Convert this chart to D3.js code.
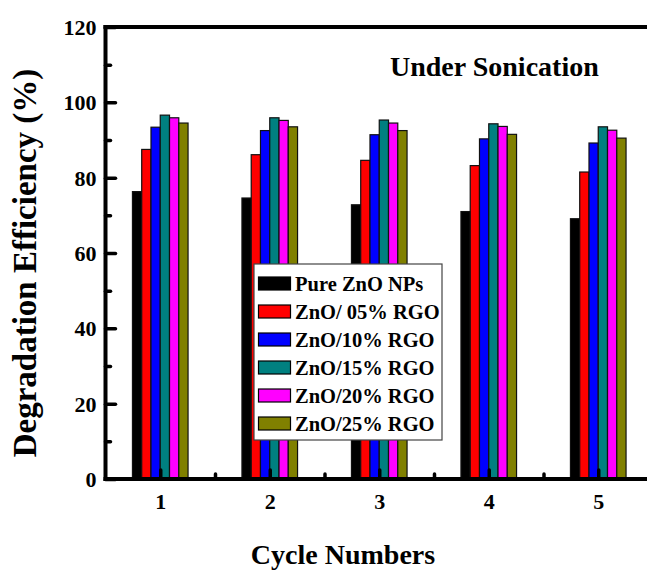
<!DOCTYPE html>
<html>
<head>
<meta charset="utf-8">
<script src="https://cdn.jsdelivr.net/npm/d3@7"></script>
<style>
  html, body { margin: 0; padding: 0; background: #fff; }
  svg { display: block; font-family: "Liberation Serif", "Times New Roman", serif; font-weight: bold; }
</style>
</head>
<body>
<svg id="chart" width="647" height="572"></svg>
<script>
// Photocatalytic degradation efficiency over repeated cycles
const cycles = [1, 2, 3, 4, 5];
const seriesNames = ["Pure ZnO NPs", "ZnO/ 05% RGO", "ZnO/10% RGO", "ZnO/15% RGO", "ZnO/20% RGO", "ZnO/25% RGO"];
const seriesColors = ["#000000", "#ff0000", "#0000ff", "#008080", "#ff00ff", "#808000"];
const pureZnO = [76.3, 74.6, 72.8, 71.0, 69.1];
const rgo05 = [87.5, 86.1, 84.6, 83.2, 81.5];
const rgo10 = [93.4, 92.5, 91.4, 90.3, 89.2];
const rgo15 = [96.6, 95.9, 95.3, 94.3, 93.5];
const rgo20 = [95.9, 95.2, 94.5, 93.6, 92.6];
const rgo25 = [94.5, 93.5, 92.5, 91.5, 90.5];
const yTickValues = [0, 20, 40, 60, 80, 100, 120];

const seriesValues = [pureZnO, rgo05, rgo10, rgo15, rgo20, rgo25];

const svg = d3.select("#chart");

const x = d3.scaleLinear().domain([0.5, 5.5]).range([105.5, 653]);
const y = d3.scaleLinear().domain([0, 120]).range([479, 27]);
const inner = d3.scaleBand().domain(seriesNames).range([-27.8, 27.8]).padding(0);

// Bars
const rows = [];
cycles.forEach((c, i) => {
  seriesNames.forEach((s, j) => {
    rows.push({ cycle: c, series: s, value: seriesValues[j][i], color: seriesColors[j] });
  });
});

svg.append("g").selectAll("rect")
  .data(rows)
  .join("rect")
  .attr("x", d => x(d.cycle) + inner(d.series))
  .attr("width", inner.bandwidth())
  .attr("y", d => y(d.value))
  .attr("height", d => y(0) - y(d.value))
  .attr("fill", d => d.color)
  .attr("stroke", "#111")
  .attr("stroke-width", 1.2);

// Frame lines (left, top, bottom)
const frame = svg.append("g").attr("stroke", "#000").attr("stroke-width", 4).attr("fill", "none");
frame.append("line").attr("x1", x(0.5)).attr("x2", x(0.5)).attr("y1", y(120) - 2).attr("y2", y(0) + 2);
frame.append("line").attr("x1", x(0.5) - 2).attr("x2", 647).attr("y1", y(120)).attr("y2", y(120));
frame.append("line").attr("x1", x(0.5) - 2).attr("x2", 647).attr("y1", y(0)).attr("y2", y(0));

// Y axis: inward ticks, labels on the left
const yMinor = d3.range(10, 120, 20);
const yAxis = d3.axisLeft(y).tickValues(yTickValues).tickSize(-10).tickPadding(9).tickFormat(d3.format("d"));
const gy = svg.append("g").attr("transform", `translate(${x(0.5)},0)`).call(yAxis);
gy.select(".domain").remove();
gy.selectAll(".tick line").attr("stroke", "#000").attr("stroke-width", 3.5).attr("stroke-linecap", "round");
gy.selectAll(".tick text").attr("font-size", 22).attr("font-family", "Liberation Serif").attr("font-weight", "bold").attr("fill", "#000").attr("dy", "0.34em");
const gyMinor = svg.append("g").attr("transform", `translate(${x(0.5)},0)`)
  .call(d3.axisLeft(y).tickValues(yMinor).tickSize(-5).tickFormat(""));
gyMinor.select(".domain").remove();
gyMinor.selectAll(".tick line").attr("stroke", "#000").attr("stroke-width", 3.5).attr("stroke-linecap", "round");

// X axis: inward ticks, labels below
const xAxis = d3.axisBottom(x).tickValues(cycles).tickSize(-9).tickPadding(14).tickFormat(d3.format("d"));
const gx = svg.append("g").attr("transform", `translate(0,${y(0)})`).call(xAxis);
gx.select(".domain").remove();
gx.selectAll(".tick line").attr("stroke", "#000").attr("stroke-width", 3.5).attr("stroke-linecap", "round");
gx.selectAll(".tick text").attr("font-size", 22).attr("font-family", "Liberation Serif").attr("font-weight", "bold").attr("fill", "#000");
const gxMinor = svg.append("g").attr("transform", `translate(0,${y(0)})`)
  .call(d3.axisBottom(x).tickValues([1.5, 2.5, 3.5, 4.5]).tickSize(-5).tickFormat(""));
gxMinor.select(".domain").remove();
gxMinor.selectAll(".tick line").attr("stroke", "#000").attr("stroke-width", 3.5).attr("stroke-linecap", "round");

// Axis titles
svg.append("text")
  .attr("x", 343).attr("y", 564)
  .attr("text-anchor", "middle")
  .attr("font-size", 28)
  .text("Cycle Numbers");

svg.append("text")
  .attr("transform", "translate(36,263) rotate(-90)")
  .attr("text-anchor", "middle")
  .attr("font-size", 33)
  .text("Degradation Efficiency (%)");

// Panel annotation
svg.append("text")
  .attr("x", 390).attr("y", 76)
  .attr("font-size", 28)
  .text("Under Sonication");

// Legend
const legend = svg.append("g").attr("transform", "translate(254,264)");
legend.append("rect")
  .attr("width", 188).attr("height", 176)
  .attr("fill", "#fff").attr("stroke", "#444").attr("stroke-width", 1.2);
const items = legend.selectAll("g.item")
  .data(seriesNames)
  .join("g")
  .attr("class", "item")
  .attr("transform", (d, i) => `translate(0,${19.5 + i * 28})`);
items.append("rect")
  .attr("x", 4.5).attr("y", -6.5)
  .attr("width", 32).attr("height", 13)
  .attr("fill", (d, i) => seriesColors[i])
  .attr("stroke", "#000").attr("stroke-width", 1.2);
items.append("text")
  .attr("x", 41).attr("y", 7)
  .attr("font-size", 20.5)
  .text(d => d);
</script>
</body>
</html>
